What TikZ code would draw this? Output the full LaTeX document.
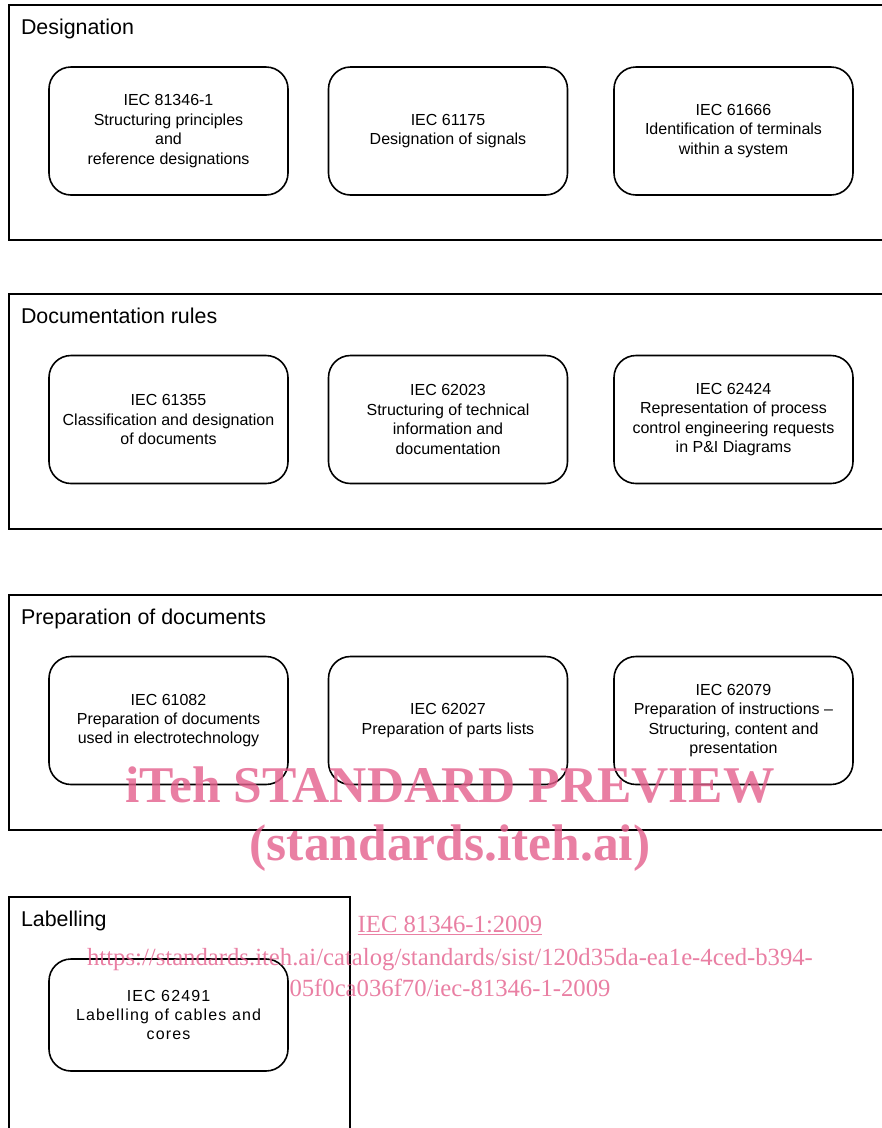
\documentclass[tikz,border=0pt]{standalone}
\usepackage{fontspec}
\setmainfont{Liberation Sans}
\newfontfamily\wmfont{Liberation Serif}
\usetikzlibrary{positioning}
\definecolor{wmpink}{RGB}{228,95,140}
\tikzset{
  iecpic/.style={
    x=1pt,y=-1pt
    ,inner sep=0pt
    ,outer sep=0pt
  }
  ,frame/.style={draw=black,line width=2.9pt}
  ,grouptitle/.style={anchor=base west,font=\fontsize{21.4}{25}\selectfont}
  ,stdbox/.style={
    draw=black,line width=1.6pt,
    rounded corners=22pt,
    minimum width=239pt,
    minimum height=128pt,
    align=center,
    font=\fontsize{16}{19.4}\selectfont
  }
  ,wmbig/.style={anchor=base,text=wmpink,text opacity=.8,
    font=\wmfont\bfseries\fontsize{51.5}{60}\selectfont}
  ,wmsmall/.style={anchor=base,text=wmpink,text opacity=.8,
    font=\wmfont\fontsize{24.7}{31}\selectfont}
}

\begin{document}
\begin{tikzpicture}[iecpic]
    \useasboundingbox (0,0) rectangle (882,1128);
    \clip (0,0) rectangle (882,1128);

    % designation
    \draw[frame] (9,5) rectangle (900,240);
    \node[grouptitle] (desigtitle) at (21,34) {Designation};
    \node[stdbox] (desig1) at (168.5,131) {IEC 81346-1\\Structuring principles\\and\\reference designations};
    \node[stdbox] (desig2) at (448,131) {IEC 61175\\Designation of signals};
    \node[stdbox] (desig3) at (733.5,131) {IEC 61666\\Identification of terminals\\within a system};

    % documentation rules
    \draw[frame] (9,294) rectangle (900,529);
    \node[grouptitle] (doctitle) at (21,323) {Documentation rules};
    \node[stdbox] (doc1) at (168.5,419.5) {IEC 61355\\Classification and designation\\of documents};
    \node[stdbox] (doc2) at (448,419.5) {IEC 62023\\Structuring of technical\\information and\\documentation};
    \node[stdbox] (doc3) at (733.5,419.5) {IEC 62424\\Representation of process\\control engineering requests\\in P\&I Diagrams};

    % preparation of documents
    \draw[frame] (9,595) rectangle (900,830);
    \node[grouptitle] (preptitle) at (21,624) {Preparation of documents};
    \node[stdbox] (prep1) at (168.5,720.5) {IEC 61082\\Preparation of documents\\used in electrotechnology};
    \node[stdbox] (prep2) at (448,720.5) {IEC 62027\\Preparation of parts lists};
    \node[stdbox] (prep3) at (733.5,720.5) {IEC 62079\\Preparation of instructions --\\Structuring, content and\\presentation};

    % labelling
    \draw[frame] (9,897) rectangle (350,1150);
    \node[grouptitle] (labtitle) at (21,926) {Labelling};
    \node[stdbox,minimum height=112pt,
      font=\fontsize{16}{19.4}\selectfont\addfontfeature{LetterSpace=7}]
      (lab1) at (168.5,1015) {IEC 62491\\Labelling of cables and\\cores};

    % watermark
    \node[wmbig] (wm1) at (450,802) {iTeh STANDARD PREVIEW};
    \node[wmbig] (wm2) at (450,860) {(standards.iteh.ai)};
    \node[wmsmall] (wm3) at (450,932) {\underline{IEC 81346-1:2009}};
    \node[wmsmall] (wm4) at (450,965) {https://standards.iteh.ai/catalog/standards/sist/120d35da-ea1e-4ced-b394-};
    \node[wmsmall] (wm5) at (450,996) {05f0ca036f70/iec-81346-1-2009};
\end{tikzpicture}
\end{document}
